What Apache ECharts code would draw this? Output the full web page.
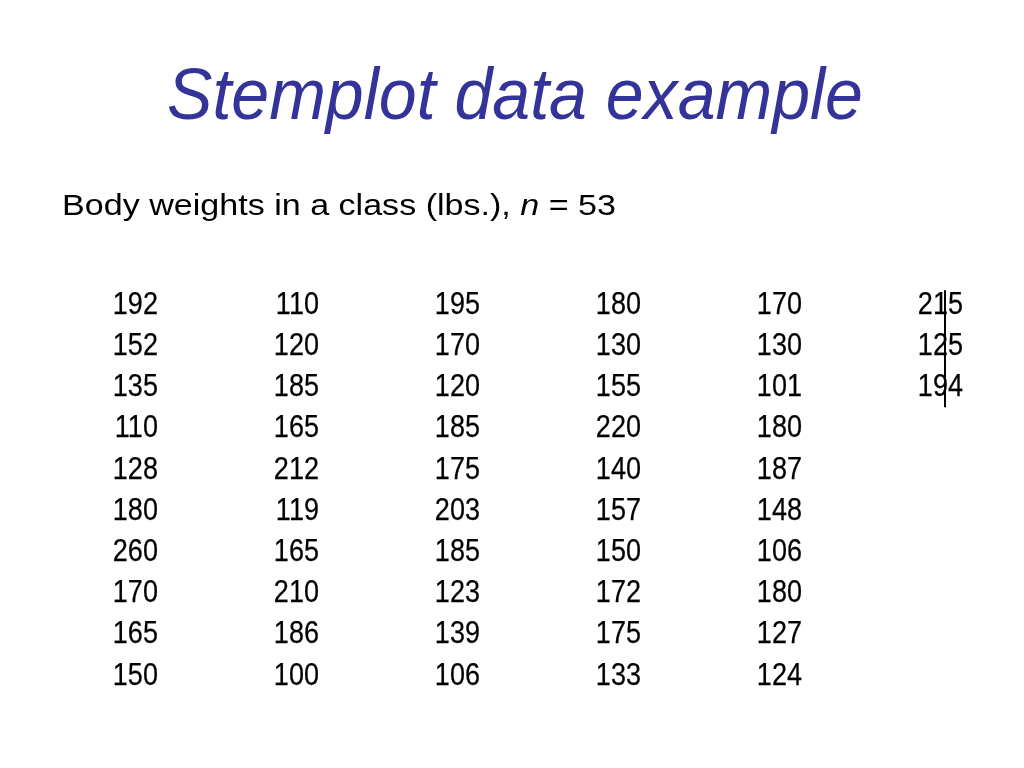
<!DOCTYPE html>
<html>
<head>
<meta charset="utf-8">
<script src="https://cdn.jsdelivr.net/npm/echarts@6/dist/echarts.min.js"></script>
<style>html,body{margin:0;padding:0;background:#fff}#c{width:1024px;height:768px}</style>
</head>
<body>
<div id="c"></div>
<script>
// Data columns as printed on the slide (top to bottom)
var col1 = [192, 152, 135, 110, 128, 180, 260, 170, 165, 150];
var col2 = [110, 120, 185, 165, 212, 119, 165, 210, 186, 100];
var col3 = [195, 170, 120, 185, 175, 203, 185, 123, 139, 106];
var col4 = [180, 130, 155, 220, 140, 157, 150, 172, 175, 133];
var col5 = [170, 130, 101, 180, 187, 148, 106, 180, 127, 124];
var col6 = [215, 125, 194];
var columns = [col1, col2, col3, col4, col5, col6];
var titleText = 'Stemplot data example';
var subtitleLead = 'Body weights in a class (lbs.), ';
var nLabel = 'n';
var nValue = 53;
// stem|leaf divider drawn through the last column (in column / row units)
var dividerCol = 4.888;
var dividerRows = [-0.36, 2.48];

var points = [];
columns.forEach(function (col, c) {
  col.forEach(function (v, r) { points.push([c, r, v]); });
});

var font = '"Liberation Sans", Arial, Helvetica, sans-serif';
var chart = echarts.init(document.getElementById('c'), null, {renderer: 'canvas'});
chart.setOption({
  animation: false,
  backgroundColor: '#ffffff',
  graphic: [{
    type: 'text',
    x: 515,
    y: 99,
    scaleX: 0.945,
    style: {
      text: titleText,
      fontFamily: font, fontStyle: 'italic', fontSize: 72, fill: '#333399',
      verticalAlign: 'middle', align: 'center'
    }
  }, {
    type: 'text',
    x: 62,
    y: 207,
    scaleX: 1.175,
    style: {
      text: subtitleLead + '{i|' + nLabel + '} = ' + nValue,
      fontFamily: font, fontSize: 29, fill: '#000',
      verticalAlign: 'middle', align: 'left',
      rich: {i: {fontStyle: 'italic', fontFamily: font, fontSize: 29, fill: '#000'}}
    }
  }],
  grid: {left: 0, right: 0, top: 284.4, height: 412},
  xAxis: {type: 'value', min: -0.981, max: 5.379, show: false},
  yAxis: {type: 'value', min: -0.5, max: 9.5, inverse: true, show: false},
  series: [{
    type: 'custom',
    data: points,
    renderItem: function (params, api) {
      var pt = api.coord([api.value(0), api.value(1)]);
      return {
        type: 'text',
        x: pt[0],
        y: pt[1],
        scaleX: 0.845,
        style: {
          text: String(api.value(2)),
          align: 'right',
          verticalAlign: 'middle',
          fontFamily: font,
          fontSize: 32,
          fill: '#000',
          stroke: '#000',
          lineWidth: 0.25
        }
      };
    },
    markLine: {
      silent: true,
      symbol: 'none',
      label: {show: false},
      lineStyle: {color: '#000', width: 2, type: 'solid'},
      data: [[
        {coord: [dividerCol, dividerRows[0]]},
        {coord: [dividerCol, dividerRows[1]]}
      ]]
    }
  }]
});
</script>
</body>
</html>
